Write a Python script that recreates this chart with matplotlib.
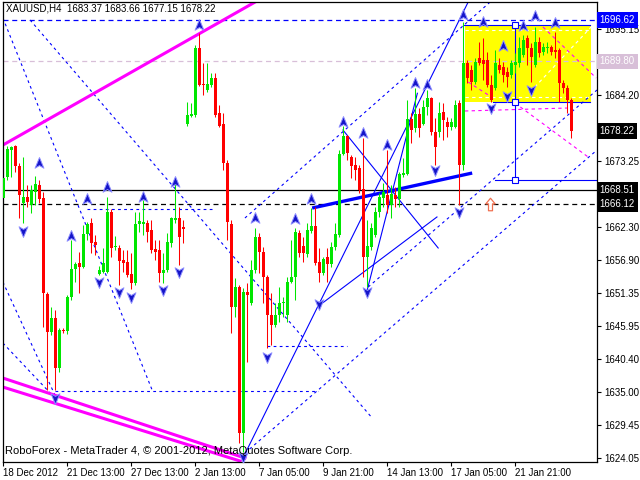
import numpy as np
import matplotlib
matplotlib.use("Agg")
import matplotlib.pyplot as plt
from matplotlib.path import Path
from matplotlib.transforms import blended_transform_factory

plt.rcParams['font.family'] = ['Liberation Sans', 'DejaVu Sans']

# XAUUSD H4 candles (open, high, low, close)
opens = [1667.14, 1670.62, 1675.10, 1675.76, 1672.44, 1666.31, 1667.31, 1665.98, 1668.14, 1669.30,
         1667.14, 1651.23, 1644.94, 1647.26, 1638.97, 1645.27, 1645.10, 1650.74, 1655.38, 1656.37,
         1655.71, 1661.18, 1663.00, 1659.85, 1654.55, 1654.88, 1654.88, 1664.82, 1659.02, 1658.86,
         1656.87, 1656.54, 1654.55, 1653.06, 1662.83, 1662.83, 1663.00, 1661.84, 1658.69, 1658.52,
         1654.71, 1655.21, 1659.68, 1663.50, 1663.83, 1662.34, 1679.40, 1680.73, 1680.89, 1692.00,
         1686.03, 1685.04, 1685.87, 1687.03, 1681.23, 1679.40, 1672.94, 1662.83, 1649.08, 1652.39,
         1628.20, 1651.57, 1649.74, 1655.21, 1660.68, 1658.19, 1654.05, 1647.75, 1646.10, 1647.75,
         1649.74, 1647.75, 1653.22, 1654.05, 1661.34, 1659.19, 1657.86, 1661.67, 1662.50, 1656.54,
         1654.71, 1657.37, 1656.21, 1659.02, 1661.01, 1674.43, 1677.41, 1673.94, 1672.61, 1672.11,
         1668.63, 1657.37, 1659.02, 1661.01, 1664.82, 1667.14, 1667.64, 1665.98, 1667.64, 1666.98,
         1670.95, 1671.12, 1680.23, 1678.74, 1681.06, 1679.40, 1682.22, 1683.71, 1678.08, 1678.08,
         1681.39, 1679.73, 1678.91, 1678.91, 1682.88, 1672.61, 1689.51, 1688.35, 1686.36, 1690.34,
         1690.01, 1690.01, 1685.87, 1685.37, 1689.18, 1688.85, 1688.02, 1687.52, 1689.18, 1689.51,
         1690.84, 1693.65, 1692.00, 1689.18, 1693.00, 1691.33, 1692.00, 1692.16, 1691.66, 1691.66,
         1686.20, 1685.37, 1683.37]
highs = [1672.94, 1675.76, 1675.76, 1675.92, 1672.94, 1673.94, 1669.30, 1669.30, 1670.79, 1670.12,
         1668.14, 1651.57, 1649.08, 1648.58, 1645.60, 1645.60, 1651.07, 1660.18, 1656.54, 1658.19,
         1662.67, 1663.16, 1663.83, 1661.01, 1655.87, 1658.86, 1667.31, 1665.32, 1660.84, 1659.35,
         1658.52, 1658.52, 1658.03, 1664.82, 1664.82, 1666.81, 1663.50, 1663.50, 1660.18, 1660.18,
         1658.03, 1661.34, 1663.99, 1669.79, 1665.65, 1663.50, 1683.05, 1682.88, 1692.49, 1694.48,
         1689.51, 1689.51, 1687.85, 1687.85, 1682.55, 1681.23, 1673.44, 1663.50, 1653.89, 1652.73,
         1652.23, 1653.06, 1656.87, 1662.17, 1661.34, 1659.02, 1654.38, 1651.40, 1649.74, 1652.39,
         1650.74, 1654.05, 1660.18, 1662.17, 1661.84, 1660.68, 1663.00, 1665.48, 1665.65, 1658.86,
         1657.37, 1658.86, 1659.85, 1663.00, 1675.09, 1679.07, 1677.58, 1674.27, 1673.94, 1672.61,
         1677.08, 1663.50, 1663.00, 1665.65, 1667.97, 1669.63, 1675.09, 1669.30, 1668.96, 1671.45,
         1673.77, 1683.38, 1681.23, 1685.37, 1682.05, 1683.38, 1685.04, 1683.88, 1680.40, 1683.05,
         1682.88, 1680.56, 1680.40, 1683.38, 1683.38, 1696.30, 1690.01, 1689.18, 1690.34, 1692.99,
         1693.65, 1691.33, 1687.52, 1691.66, 1690.34, 1689.68, 1688.85, 1690.01, 1691.17, 1693.82,
         1694.15, 1694.15, 1692.82, 1695.48, 1693.82, 1692.82, 1692.99, 1692.49, 1694.65, 1692.00,
         1686.69, 1685.87, 1683.66]
lows = [1663.99, 1670.12, 1670.62, 1671.45, 1663.83, 1663.00, 1665.65, 1664.66, 1665.98, 1666.31,
        1645.77, 1635.33, 1644.44, 1635.33, 1638.31, 1644.77, 1644.61, 1650.24, 1653.22, 1651.40,
        1655.54, 1660.18, 1658.03, 1657.70, 1654.38, 1654.71, 1654.71, 1657.37, 1658.52, 1652.73,
        1654.88, 1654.05, 1652.06, 1652.73, 1661.51, 1661.01, 1659.85, 1658.03, 1656.87, 1653.22,
        1653.06, 1654.88, 1659.02, 1663.00, 1656.04, 1659.68, 1679.07, 1680.56, 1680.56, 1685.70,
        1684.21, 1684.71, 1685.53, 1680.56, 1678.91, 1671.78, 1660.18, 1644.77, 1647.42, 1626.54,
        1625.05, 1639.97, 1649.41, 1654.71, 1654.71, 1649.74, 1642.29, 1642.78, 1645.77, 1646.59,
        1647.42, 1646.59, 1653.06, 1650.24, 1657.37, 1656.54, 1657.37, 1661.34, 1656.04, 1653.22,
        1654.38, 1653.22, 1655.71, 1658.52, 1660.68, 1674.27, 1673.44, 1670.46, 1670.12, 1667.97,
        1654.05, 1652.39, 1658.52, 1660.68, 1663.99, 1665.65, 1664.66, 1663.83, 1665.65, 1665.65,
        1670.62, 1670.95, 1676.25, 1678.08, 1677.25, 1679.24, 1680.89, 1677.58, 1672.61, 1677.25,
        1676.75, 1677.25, 1678.41, 1678.74, 1665.98, 1671.78, 1686.20, 1685.04, 1686.03, 1689.18,
        1686.69, 1685.53, 1683.05, 1685.04, 1687.85, 1686.36, 1685.50, 1687.03, 1687.85, 1688.85,
        1690.51, 1689.18, 1686.36, 1688.85, 1690.51, 1690.84, 1691.17, 1690.84, 1690.34, 1683.05,
        1684.54, 1681.23, 1677.15]
closes = [1670.46, 1675.26, 1675.59, 1672.44, 1667.64, 1667.31, 1666.48, 1668.47, 1669.46, 1666.98,
          1651.40, 1644.94, 1647.26, 1638.97, 1645.27, 1645.10, 1650.74, 1655.38, 1656.21, 1655.71,
          1661.18, 1662.83, 1659.68, 1659.35, 1655.21, 1656.37, 1664.82, 1658.86, 1659.19, 1656.70,
          1656.37, 1654.38, 1653.06, 1662.83, 1663.33, 1663.16, 1661.51, 1658.52, 1658.19, 1654.71,
          1655.21, 1659.85, 1663.83, 1663.83, 1660.68, 1662.00, 1680.89, 1681.06, 1692.00, 1685.87,
          1685.87, 1686.03, 1687.03, 1680.89, 1679.07, 1672.94, 1663.16, 1649.08, 1652.39, 1628.20,
          1651.57, 1651.07, 1655.21, 1660.68, 1658.19, 1654.05, 1647.75, 1646.10, 1647.75, 1649.74,
          1649.91, 1653.22, 1654.05, 1661.51, 1658.03, 1658.03, 1661.84, 1662.50, 1656.37, 1654.71,
          1657.03, 1656.21, 1659.02, 1661.18, 1674.43, 1677.41, 1674.60, 1672.44, 1671.78, 1668.47,
          1657.37, 1659.19, 1662.17, 1664.82, 1667.31, 1668.14, 1665.98, 1667.80, 1666.98, 1671.12,
          1671.28, 1680.23, 1678.41, 1681.06, 1678.74, 1682.22, 1683.71, 1678.08, 1675.59, 1681.23,
          1680.07, 1678.91, 1679.73, 1682.55, 1672.61, 1689.51, 1687.03, 1686.36, 1689.68, 1689.51,
          1689.35, 1685.87, 1683.38, 1689.51, 1688.35, 1687.52, 1687.19, 1689.51, 1689.68, 1692.00,
          1693.32, 1692.00, 1690.51, 1693.00, 1691.17, 1692.16, 1692.16, 1691.33, 1691.33, 1686.20,
          1685.37, 1683.38, 1678.22]

time_ticks = [0, 16, 32, 48, 64, 80, 96, 112, 128]
time_labels = ["18 Dec 2012", "21 Dec 13:00", "27 Dec 13:00", "2 Jan 13:00", "7 Jan 05:00",
               "9 Jan 21:00", "14 Jan 13:00", "17 Jan 05:00", "21 Jan 21:00"]
price_ticks = [1624.05, 1629.45, 1635.00, 1640.40, 1645.95, 1651.35, 1656.90, 1662.30,
               1667.85, 1673.25, 1678.80, 1684.20, 1689.75, 1695.15]
hidden_ticks = [1667.85, 1678.80, 1689.75]   # covered by the price boxes

# fractals (bar, price)
fractal_up = [(9, 1672.94), (17, 1660.84), (21, 1666.98), (26, 1668.96), (35, 1667.31),
              (43, 1669.79), (49, 1695.81), (63, 1663.83), (73, 1663.66), (77, 1666.98),
              (85, 1679.73), (90, 1677.91), (96, 1675.92), (103, 1686.20), (106, 1685.87),
              (115, 1697.46), (120, 1696.30), (125, 1692.33), (130, 1695.64), (133, 1697.30),
              (138, 1696.14)]
fractal_dn = [(5, 1661.67), (13, 1634.00), (24, 1653.22), (29, 1651.57), (32, 1650.74),
              (40, 1651.90), (44, 1654.88), (60, 1624.22), (66, 1640.79), (79, 1649.58),
              (91, 1651.57), (108, 1671.78), (114, 1664.82), (122, 1682.05), (126, 1684.04),
              (132, 1685.04)]

# horizontal levels
level_top = 1696.62
level_gray = 1689.80
level_black = 1668.51
level_black_dash = 1666.12
last_price = 1678.22

# trend lines: (bar0, price0, bar1, price1)
magenta_lines = [(-0.1, 1675.92, 64.7, 1700.28),
                 (-0.1, 1637.31, 60.4, 1624.06),
                 (-0.1, 1635.82, 59.2, 1623.56)]
blue_dashed = [(-0.1, 1696.97, 37.2, 1635.33),
               (6.7, 1696.64, 92.2, 1630.69),
               (60.4, 1624.89, 148.4, 1675.09),
               (60.4, 1663.83, 121.7, 1699.62),
               (91.2, 1652.39, 148.4, 1685.04),
               (-0.1, 1653.22, 12.9, 1634.50),
               (-0.1, 1643.11, 12.9, 1634.00),
               (12.9, 1635.16, 78.7, 1635.16),
               (65.9, 1642.62, 85.9, 1642.62),
               (20.9, 1665.32, 52.2, 1665.32)]
blue_solid = [(59.9, 1624.06, 116.2, 1699.62),
              (91.0, 1652.00, 103.5, 1684.50),
              (84.9, 1678.41, 108.7, 1658.86),
              (78.7, 1649.20, 108.4, 1664.00),
              (122.9, 1670.12, 148.4, 1670.12),
              (127.9, 1695.81, 127.9, 1670.12),
              (114.9, 1695.81, 146.7, 1695.81),
              (122.4, 1683.05, 146.7, 1683.05)]
thick_line = (77.2, 1665.48, 117.2, 1671.28)
pink_dashed = [(115.4, 1681.56, 140.9, 1682.05),
               (127.9, 1682.88, 146.2, 1673.93),
               (134.9, 1695.48, 148.2, 1687.03),
               (116.2, 1686.36, 122.4, 1683.71)]
white_dashed = [(131.7, 1684.71, 147.4, 1695.81),
                (115.4, 1694.98, 146.9, 1694.98),
                (115.4, 1683.88, 146.9, 1683.88)]
rect = (115.4, 1683.05, 146.9, 1695.81)
anchors = [(127.9, 1695.81), (127.9, 1683.05), (127.9, 1670.12)]
buy_arrow = (121.7, 1666.15)

fig = plt.figure(figsize=(6.4, 4.8), dpi=100)
ax = fig.add_axes([2.5 / 640, 18 / 480, 594.5 / 640, 460 / 480])
ax.set_xlim(-0.2, 148.4)
ax.set_ylim(1623.40, 1699.62)

ax.axhspan(rect[1], rect[3], xmin=(rect[0] + 0.2) / 148.6, xmax=(rect[2] + 0.2) / 148.6,
           color='#ffff00', zorder=0, lw=0)

for y, col, ls in [(level_top, '#0000ff', (0, (4, 3))), (level_gray, '#d8bfd8', (0, (4, 3))),
                   (level_black, 'black', '-'), (level_black_dash, 'black', (0, (4, 3)))]:
    ax.axhline(y, color=col, lw=0.9, ls=ls, zorder=1)

for x0, y0, x1, y1 in white_dashed:
    ax.plot([x0, x1], [y0, y1], color='white', lw=0.8, ls=(0, (3, 3)), zorder=1)
for x0, y0, x1, y1 in pink_dashed:
    ax.plot([x0, x1], [y0, y1], color='#ff00ff', lw=0.8, ls=(0, (3, 3)), zorder=1)
for x0, y0, x1, y1 in blue_dashed:
    ax.plot([x0, x1], [y0, y1], color='#0000ff', lw=0.8, ls=(0, (2.5, 3)), zorder=1)
for x0, y0, x1, y1 in blue_solid:
    ax.plot([x0, x1], [y0, y1], color='#0000ff', lw=0.8, zorder=1)
ax.plot([thick_line[0], thick_line[2]], [thick_line[1], thick_line[3]], color='#0000ff', lw=2.4,
        solid_capstyle='butt', zorder=1)
for x0, y0, x1, y1 in magenta_lines:
    ax.plot([x0, x1], [y0, y1], color='#ff00ff', lw=2.2, zorder=1)
ax.plot([a[0] for a in anchors], [a[1] for a in anchors], ls='none', marker='s', ms=4,
        mfc='white', mec='#0000ff', mew=0.8, zorder=4)

# candles
idx = np.arange(len(opens))
o = np.array(opens); h = np.array(highs); l = np.array(lows); c = np.array(closes)
cols = np.where(c >= o, '#00e600', '#ff0000')
ax.vlines(idx, l, h, colors=cols, lw=0.75, zorder=2)
body = np.maximum(np.abs(c - o), 0.18)
ax.bar(idx, body, bottom=np.minimum(o, c), width=0.75, color=cols, lw=0, zorder=3)

# fractal arrows
up_path = Path([(0, 1), (0.75, -0.8), (0, -0.35), (-0.75, -0.8), (0, 1)],
               [Path.MOVETO, Path.LINETO, Path.LINETO, Path.LINETO, Path.CLOSEPOLY])
dn_path = Path([(0, -1), (0.75, 0.8), (0, 0.35), (-0.75, 0.8), (0, -1)],
               [Path.MOVETO, Path.LINETO, Path.LINETO, Path.LINETO, Path.CLOSEPOLY])
ax.plot([f[0] for f in fractal_up], [f[1] for f in fractal_up], ls='none', marker=up_path,
        ms=8.5, mfc='#1515c8', mec='#8c8cff', mew=0.7, zorder=5)
ax.plot([f[0] for f in fractal_dn], [f[1] for f in fractal_dn], ls='none', marker=dn_path,
        ms=8.5, mfc='#1515c8', mec='#8c8cff', mew=0.7, zorder=5)
buy_path = Path([(0, 1), (0.75, 0.1), (0.32, 0.1), (0.32, -1), (-0.32, -1), (-0.32, 0.1),
                 (-0.75, 0.1), (0, 1)],
                [Path.MOVETO] + [Path.LINETO] * 6 + [Path.CLOSEPOLY])
ax.plot([buy_arrow[0]], [buy_arrow[1]], ls='none', marker=buy_path, ms=9, mfc='white',
        mec='#f07050', mew=0.9, zorder=5)

# axes styling
for s in ax.spines.values():
    s.set_color('black')
    s.set_linewidth(0.9)
ax.yaxis.tick_right()
ax.set_yticks(price_ticks)
ax.set_yticklabels(["" if p in hidden_ticks else "%.2f" % p for p in price_ticks])
ax.set_xticks(time_ticks)
ax.set_xticklabels(time_labels)
ax.tick_params(axis='y', direction='out', length=3, width=0.8, pad=2.2, labelsize=7)
ax.tick_params(axis='x', direction='out', length=3, width=0.8, pad=1.5, labelsize=7)
for t in ax.get_xticklabels():
    t.set_ha('left')

tr = blended_transform_factory(ax.transAxes, ax.transData)
for y, fc in [(level_top, '#0000ff'), (level_gray, '#d8bfd8'), (last_price, 'black'),
              (level_black, 'black'), (level_black_dash, 'black')]:
    ax.text(1.0045, y, "%.2f" % y, transform=tr, ha='left', va='center', fontsize=7,
            color='white', clip_on=False, zorder=10,
            bbox=dict(boxstyle='square,pad=0.28', fc=fc, ec='none'))

ax.text(0.006, 0.997, "XAUUSD,H4  %.2f %.2f %.2f %.2f" % (opens[-1], highs[-1], lows[-1], closes[-1]),
        transform=ax.transAxes, ha='left', va='top', fontsize=7, color='black')
ax.text(0.004, 0.012, "RoboForex - MetaTrader 4, \u00a9 2001-2012, MetaQuotes Software Corp.",
        transform=ax.transAxes, ha='left', va='bottom', fontsize=8, color='black', zorder=10)

fig.savefig("out.png", dpi=100, facecolor='white')
